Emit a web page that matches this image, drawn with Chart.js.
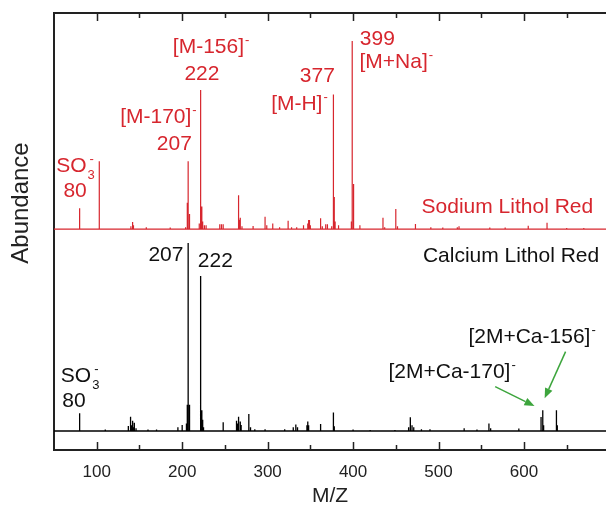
<!DOCTYPE html>
<html>
<head>
<meta charset="utf-8">
<script src="https://cdn.jsdelivr.net/npm/chart.js@4.4.1/dist/chart.umd.min.js"></script>
<style>
  html, body { margin: 0; padding: 0; background: #fff; }
  canvas { display: block; }
</style>
</head>
<body>
<canvas id="c" width="606" height="509"></canvas>
<script>
// ---------- data ----------
const xRange = [50, 696];
const yRange = [-10.1, 222.3];
const majorTicks = [100, 200, 300, 400, 500, 600];
const minorTicks = [150, 250, 350, 450, 550, 650];
const redOffset = 107.4;   // vertical offset of the sodium trace

// Sodium Lithol Red (red trace)
const redMz = [80, 103, 140, 142, 143, 158, 186, 204, 206, 207, 208, 209, 220, 221, 222, 223, 224, 226, 228,
  244, 246, 248, 266, 267, 268, 270, 283, 297, 299, 306, 314, 324, 328, 334, 342, 347, 348, 349, 350,
  362, 364, 368, 370, 375, 377, 378, 379, 383, 398, 399, 400, 401, 408, 435, 437, 450, 452, 473,
  491, 505, 522, 524, 560, 578, 605, 627, 650, 670];
const redAbund = [11, 36, 1.5, 3.7, 2, 1, 0.8, 1, 14, 36, 8, 2, 3, 25, 74, 12, 4, 2, 2,
  2.5, 2.5, 2.5, 18, 5, 6, 1.5, 1.6, 6.5, 2, 3, 1, 4.4, 1, 1, 2, 3, 4.8, 4.8, 2,
  5.7, 1.5, 2.6, 2.6, 1.5, 71.6, 17, 4, 2, 4, 100, 24, 6, 2, 6, 1, 10.6, 1.5, 2.7,
  1, 0.8, 1, 1.5, 0.8, 0.8, 1.8, 3.4, 0.6, 0.5];

// Calcium Lithol Red (black trace)
const blackMz = [80, 110, 137, 139, 140, 141, 142, 143, 144, 146, 160, 170, 195, 200, 205, 206, 207, 208, 209,
  221, 222, 223, 224, 225, 248, 263, 264, 265, 266, 268, 269, 278, 280, 285, 297, 320, 330, 333, 335,
  346, 347, 348, 362, 377, 378, 400, 420, 449, 465, 467, 469, 471, 480, 490, 530, 545, 559, 561,
  594, 620, 622, 623, 638, 639];
const blackAbund = [9.4, 0.8, 2.7, 3, 7.6, 3, 5.5, 2, 4.4, 1.5, 0.8, 0.8, 2, 3.2, 4, 14, 100, 14, 4,
  5, 82.4, 11, 6, 2, 4.6, 5.5, 5.5, 4, 7.6, 5, 3.2, 9, 2, 1, 1, 1, 2, 3.5, 2,
  3, 5, 3, 3.7, 9.9, 2.5, 0.8, 0.6, 0.6, 2, 7.3, 3, 2, 1, 1, 1.5, 0.8, 4, 1.5,
  1.4, 7.5, 11, 3, 11, 3];

// Annotations (data coordinates: m/z, abundance units)
const RED = '#d7262e';
const labels = [
  { seg: [['SO'], ['3', 'sub'], ['-', 'sup']], x: 52.5, y: 137.8, align: 'left', color: RED },
  { seg: [['80']], x: 74.7, y: 124.5, align: 'center', color: RED },
  { seg: [['[M-170]'], ['-', 'sup']], x: 127.4, y: 163.8, align: 'left', color: RED },
  { seg: [['207']], x: 190.8, y: 149.5, align: 'center', color: RED },
  { seg: [['[M-156]'], ['-', 'sup']], x: 189.1, y: 201, align: 'left', color: RED },
  { seg: [['222']], x: 223.1, y: 186.7, align: 'center', color: RED },
  { seg: [['377']], x: 358.2, y: 185.8, align: 'center', color: RED },
  { seg: [['[M-H]'], ['-', 'sup']], x: 304.1, y: 170.7, align: 'left', color: RED },
  { seg: [['399']], x: 428.4, y: 205.3, align: 'center', color: RED },
  { seg: [['[M+Na]'], ['-', 'sup']], x: 407.5, y: 193.1, align: 'left', color: RED },
  { seg: [['Sodium Lithol Red']], x: 681, y: 116, align: 'right', color: RED },
  { seg: [['207']], x: 201.5, y: 90.4, align: 'right', color: '#111' },
  { seg: [['222']], x: 218.3, y: 87, align: 'left', color: '#111' },
  { seg: [['SO'], ['3', 'sub'], ['-', 'sup']], x: 58, y: 26.2, align: 'left', color: '#111' },
  { seg: [['80']], x: 73.3, y: 12.9, align: 'center', color: '#111' },
  { seg: [['Calcium Lithol Red']], x: 688, y: 90, align: 'right', color: '#111' },
  { seg: [['[2M+Ca-156]'], ['-', 'sup']], x: 535, y: 46.8, align: 'left', color: '#111' },
  { seg: [['[2M+Ca-170]'], ['-', 'sup']], x: 441.4, y: 28.2, align: 'left', color: '#111' }
];
const arrows = [
  { from: [566.3, 23.6], to: [612.3, 13.3] },
  { from: [648.7, 42.2], to: [624.2, 17.4] }
];
const yTitle = 'Abundance';

// ---------- build stick spectra ----------
function sticks(mz, ab, base) {
  const pts = [{ x: xRange[0], y: base }];
  mz.forEach((m, i) => {
    pts.push({ x: m, y: base });
    pts.push({ x: m, y: base + ab[i] });
    pts.push({ x: m, y: base });
  });
  pts.push({ x: xRange[1], y: base });
  return pts;
}

const FONT = "'Liberation Sans', Arial, sans-serif";

function drawRich(ctx, seg, px, py, align, color) {
  const main = '21px ' + FONT, small = '13px ' + FONT;
  const parts = [];
  seg.forEach(s => {
    const kind = s[1] || 'main';
    ctx.font = kind === 'main' ? main : small;
    parts.push({ t: s[0], kind, tw: ctx.measureText(s[0]).width });
  });
  let cursor = 0, total = 0;
  const pos = [];
  for (let i = 0; i < parts.length; i++) {
    const p = parts[i];
    if (p.kind === 'sup' && i > 0 && parts[i - 1].kind === 'sub') {
      pos.push(pos[i - 1] + 2);
      total = Math.max(total, pos[i] + p.tw);
    } else {
      pos.push(cursor + (p.kind === 'main' ? 0 : 1));
      cursor = pos[i] + p.tw;
      total = Math.max(total, cursor);
    }
  }
  let x0 = px;
  if (align === 'center') x0 = px - total / 2;
  else if (align === 'right') x0 = px - total;
  ctx.save();
  ctx.fillStyle = color;
  ctx.textBaseline = 'alphabetic';
  ctx.textAlign = 'left';
  parts.forEach((p, i) => {
    ctx.font = p.kind === 'main' ? main : small;
    let y = py;
    if (p.kind === 'sub') y = py + 7;
    if (p.kind === 'sup') y = py - 9;
    ctx.fillText(p.t, x0 + pos[i], y);
  });
  ctx.restore();
}

const decor = {
  id: 'decor',
  afterDatasetsDraw(chart) {
    const ctx = chart.ctx;
    const xs = chart.scales.x, ys = chart.scales.y;
    const a = chart.chartArea;
    ctx.save();
    ctx.strokeStyle = '#222';
    ctx.lineWidth = 2;
    ctx.beginPath();
    ctx.moveTo(a.left - 1, a.top);
    ctx.lineTo(a.right, a.top);
    ctx.stroke();
    ctx.lineWidth = 1.5;
    const tick = (v, len) => {
      const px = Math.round(xs.getPixelForValue(v)) + 0.5;
      ctx.beginPath();
      ctx.moveTo(px, a.bottom);
      ctx.lineTo(px, a.bottom - len);
      ctx.moveTo(px, a.top);
      ctx.lineTo(px, a.top + len);
      ctx.stroke();
    };
    majorTicks.forEach(v => tick(v, 8));
    minorTicks.forEach(v => tick(v, 5));
    ctx.strokeStyle = '#3da53d';
    ctx.fillStyle = '#3da53d';
    ctx.lineWidth = 1.5;
    arrows.forEach(ar => {
      const x1 = xs.getPixelForValue(ar.from[0]), y1 = ys.getPixelForValue(ar.from[1]);
      const x2 = xs.getPixelForValue(ar.to[0]), y2 = ys.getPixelForValue(ar.to[1]);
      const ang = Math.atan2(y2 - y1, x2 - x1);
      const hl = 10, hw = 4;
      const bx = x2 - hl * Math.cos(ang), by = y2 - hl * Math.sin(ang);
      ctx.beginPath();
      ctx.moveTo(x1, y1);
      ctx.lineTo(bx, by);
      ctx.stroke();
      ctx.beginPath();
      ctx.moveTo(x2, y2);
      ctx.lineTo(bx + hw * Math.sin(ang), by - hw * Math.cos(ang));
      ctx.lineTo(bx - hw * Math.sin(ang), by + hw * Math.cos(ang));
      ctx.closePath();
      ctx.fill();
    });
    // y axis title (centred on the upper part of the axis, as in the original)
    ctx.save();
    ctx.translate(21, 203);
    ctx.rotate(-Math.PI / 2);
    ctx.font = '24px ' + FONT;
    ctx.fillStyle = '#222';
    ctx.textAlign = 'center';
    ctx.textBaseline = 'middle';
    ctx.fillText(yTitle, 0, 0);
    ctx.restore();
    ctx.restore();
    labels.forEach(l => {
      drawRich(ctx, l.seg, xs.getPixelForValue(l.x), ys.getPixelForValue(l.y), l.align, l.color);
    });
  }
};

new Chart(document.getElementById('c'), {
  type: 'line',
  data: {
    datasets: [
      {
        label: 'Sodium Lithol Red',
        data: sticks(redMz, redAbund, redOffset),
        borderColor: RED,
        borderWidth: 1.2,
        pointRadius: 0,
        tension: 0,
        fill: false
      },
      {
        label: 'Calcium Lithol Red',
        data: sticks(blackMz, blackAbund, 0),
        borderColor: '#000',
        borderWidth: 1.3,
        pointRadius: 0,
        tension: 0,
        fill: false
      }
    ]
  },
  options: {
    responsive: false,
    animation: false,
    devicePixelRatio: 1,
    layout: { padding: { top: 13, right: 0, left: 0, bottom: 0 } },
    plugins: { legend: { display: false }, tooltip: { enabled: false } },
    scales: {
      x: {
        type: 'linear',
        min: xRange[0],
        max: xRange[1],
        afterBuildTicks: s => { s.ticks = majorTicks.map(v => ({ value: v })); },
        afterFit: s => { s.height = 59; },
        grid: { display: false },
        border: { display: true, color: '#222', width: 2 },
        ticks: { color: '#222', font: { family: FONT, size: 17 }, padding: 4, maxRotation: 0 },
        title: { display: true, text: 'M/Z', color: '#222', font: { family: FONT, size: 21 }, padding: { top: 0, bottom: 0 } }
      },
      y: {
        type: 'linear',
        min: yRange[0],
        max: yRange[1],
        afterFit: s => { s.width = 54; },
        grid: { display: false },
        border: { display: true, color: '#222', width: 2 },
        ticks: { display: false },
        title: { display: false }
      }
    }
  },
  plugins: [decor]
});
</script>
</body>
</html>
